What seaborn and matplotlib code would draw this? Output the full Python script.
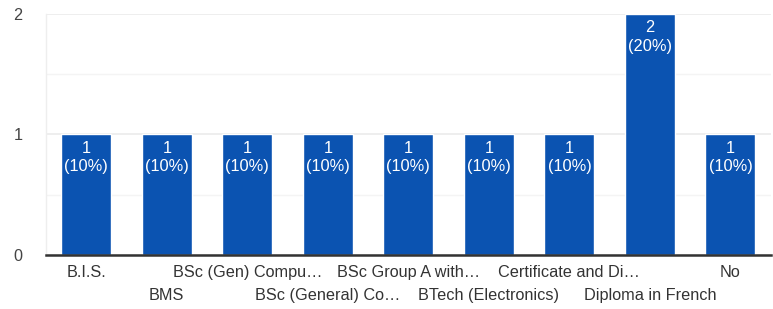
import pandas as pd
import seaborn as sns
import matplotlib.pyplot as plt

categorias = [
    "B.I.S.",
    "BMS",
    "BSc (Gen) Compu…",
    "BSc (General) Co…",
    "BSc Group A with…",
    "BTech (Electronics)",
    "Certificate and Di…",
    "Diploma in French",
    "No",
]
conteos = [1, 1, 1, 1, 1, 1, 1, 2, 1]
ticks_y = [0, 1, 2]


def main():
    df = pd.DataFrame({"categoria": categorias, "conteo": conteos})
    total = sum(conteos)

    sns.set_theme(style="white")
    plt.rcParams["font.family"] = ["Liberation Sans", "DejaVu Sans"]

    fig = plt.figure(figsize=(7.73, 3.09), dpi=100)
    ax = fig.add_axes([0.0595, 0.1748, 0.9375, 0.78])

    sns.barplot(data=df, x="categoria", y="conteo", color="#0b53b1",
                saturation=1, width=0.62, ax=ax, zorder=3)

    # etiquetas dentro de las barras
    for i, v in enumerate(conteos):
        ax.text(i, v - 0.05, f"{v}\n({v / total * 100:.0f}%)",
                ha="center", va="top", color="white", fontsize=11.8,
                linespacing=1.32, zorder=4)

    ax.set_xlim(-0.5, len(categorias) - 0.5)
    ax.set_ylim(0, 2)
    ax.set_yticks(ticks_y)
    ax.set_yticks([0.5, 1.5], minor=True)
    ax.grid(axis="y", which="major", color="#ebebeb", linewidth=1.2, zorder=0)
    ax.grid(axis="y", which="minor", color="#f4f4f4", linewidth=1.0, zorder=0)
    ax.tick_params(axis="y", which="both", length=0, pad=17,
                   labelsize=11.7, labelcolor="#444444")

    # etiquetas del eje X en dos filas alternas
    ax.set_xticks(range(len(categorias)))
    ax.set_xticklabels([])
    ax.tick_params(axis="x", length=0)
    trans = ax.get_xaxis_transform()
    for i, c in enumerate(categorias):
        y = -0.072 if i % 2 == 0 else -0.168
        ax.text(i, y, c, transform=trans, ha="center", va="center",
                fontsize=11.7, color="#333333")
    ax.set_xlabel("")
    ax.set_ylabel("")

    for lado in ["top", "right"]:
        ax.spines[lado].set_visible(False)
    ax.spines["left"].set_color("#eeeeee")
    ax.spines["left"].set_linewidth(1.0)
    ax.spines["bottom"].set_color("#333333")
    ax.spines["bottom"].set_linewidth(1.8)
    ax.spines["bottom"].set_zorder(5)

    plt.savefig("out.png", dpi=100)


if __name__ == "__main__":
    main()
